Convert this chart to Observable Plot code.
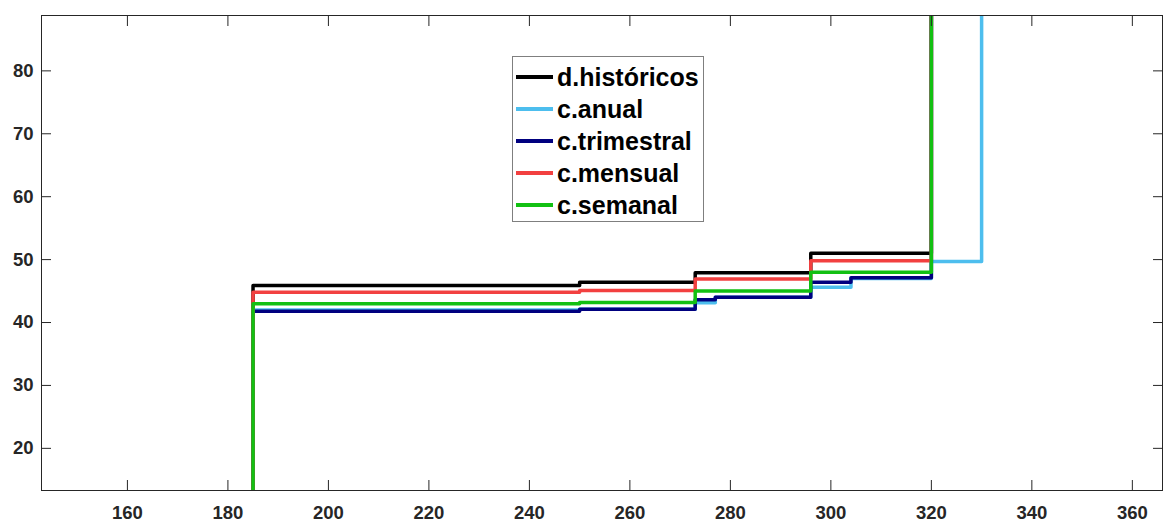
<!DOCTYPE html>
<html><head><meta charset="utf-8">
<script src="https://cdn.jsdelivr.net/npm/d3@7"></script>
<script src="https://cdn.jsdelivr.net/npm/@observablehq/plot@0.6"></script>
<style>
body{margin:0;background:#fff;}
#wrap{position:relative;width:1163px;height:522px;}
#legend{position:absolute;left:512px;top:56px;width:190px;height:160px;padding-top:4px;border:1px solid #7f7f7f;background:#fff;font-family:"Liberation Sans",Arial,sans-serif;font-weight:bold;font-size:25px;color:#000;}
.row{height:32px;display:flex;align-items:center;white-space:nowrap;}
.sw{width:37px;height:3.5px;margin-left:3px;margin-right:4px;flex:none;}
</style></head>
<body><div id="wrap"></div>
<script>
// series names and colours
const names = ["d.históricos", "c.anual", "c.trimestral", "c.mensual", "c.semanal"];
const colors = ["#000000", "#4dbeee", "#00007f", "#f24040", "#12c012"];

// step positions (x) and levels (y) for each series; the last x is the final jump off-chart
const xHist = [185, 250, 273, 296, 320];
const yHist = [45.9, 46.4, 47.9, 51.0];
const xAnual = [185, 250, 273, 277, 296, 304, 320, 330];
const yAnual = [42.0, 42.1, 43.15, 44.0, 45.6, 47.0, 49.7];
const xTrim = [185, 250, 273, 277, 296, 304, 320];
const yTrim = [41.8, 42.1, 43.6, 44.0, 46.4, 47.1];
const xMens = [185, 250, 273, 296, 320];
const yMens = [44.8, 45.1, 46.9, 49.8];
const xSem = [185, 250, 273, 296, 320];
const ySem = [43.0, 43.2, 45.0, 48.0];

const xTicks = [160, 180, 200, 220, 240, 260, 280, 300, 320, 340, 360];
const yTicks = [20, 30, 40, 50, 60, 70, 80];
const xDomain = [142.9, 366];
const yDomain = [13.3, 88.8];
const offLow = 0, offHigh = 100;

const seriesX = [xHist, xAnual, xTrim, xMens, xSem];
const seriesY = [yHist, yAnual, yTrim, yMens, ySem];

const data = [];
names.forEach((name, i) => {
  const xs = seriesX[i], ys = seriesY[i];
  data.push({series: name, x: xs[0], y: offLow});
  ys.forEach((v, j) => data.push({series: name, x: xs[j], y: v}));
  data.push({series: name, x: xs[xs.length - 1], y: offHigh});
});

const axisColor = "#262626";
const font = {fontSize: 18.5, fontWeight: "bold", fontFamily: '"Liberation Sans", Arial, sans-serif'};
const chart = Plot.plot({
  width: 1163, height: 522,
  marginLeft: 41, marginTop: 15, marginBottom: 32, marginRight: 1,
  style: {fontFamily: '"Liberation Sans", Arial, sans-serif', fontWeight: "bold", fontSize: "18.5px", color: axisColor, background: "#fff"},
  x: {domain: xDomain},
  y: {domain: yDomain},
  color: {domain: names, range: colors},
  marks: [
    Plot.line(data, {x: "x", y: "y", z: "series", stroke: "series", strokeWidth: 3.5, curve: "step-after", clip: true}),
    Plot.frame({stroke: axisColor, strokeWidth: 1}),
    Plot.axisX({anchor: "bottom", ticks: xTicks, tickSize: -10, tickPadding: 25, label: null, stroke: axisColor, fill: axisColor, ...font}),
    Plot.axisX({anchor: "top", ticks: xTicks, tickSize: -10, tickFormat: () => "", label: null, stroke: axisColor}),
    Plot.axisY({anchor: "left", ticks: yTicks, tickSize: -10, tickPadding: 18, label: null, stroke: axisColor, fill: axisColor, ...font}),
    Plot.axisY({anchor: "right", ticks: yTicks, tickSize: -10, tickFormat: () => "", label: null, stroke: axisColor})
  ]
});
const wrap = document.getElementById("wrap");
wrap.appendChild(chart);

const legend = document.createElement("div");
legend.id = "legend";
names.forEach((n, i) => {
  const row = document.createElement("div");
  row.className = "row";
  const sw = document.createElement("span");
  sw.className = "sw";
  sw.style.background = colors[i];
  const t = document.createElement("span");
  t.textContent = n;
  row.appendChild(sw); row.appendChild(t);
  legend.appendChild(row);
});
wrap.appendChild(legend);
</script>
</body></html>
